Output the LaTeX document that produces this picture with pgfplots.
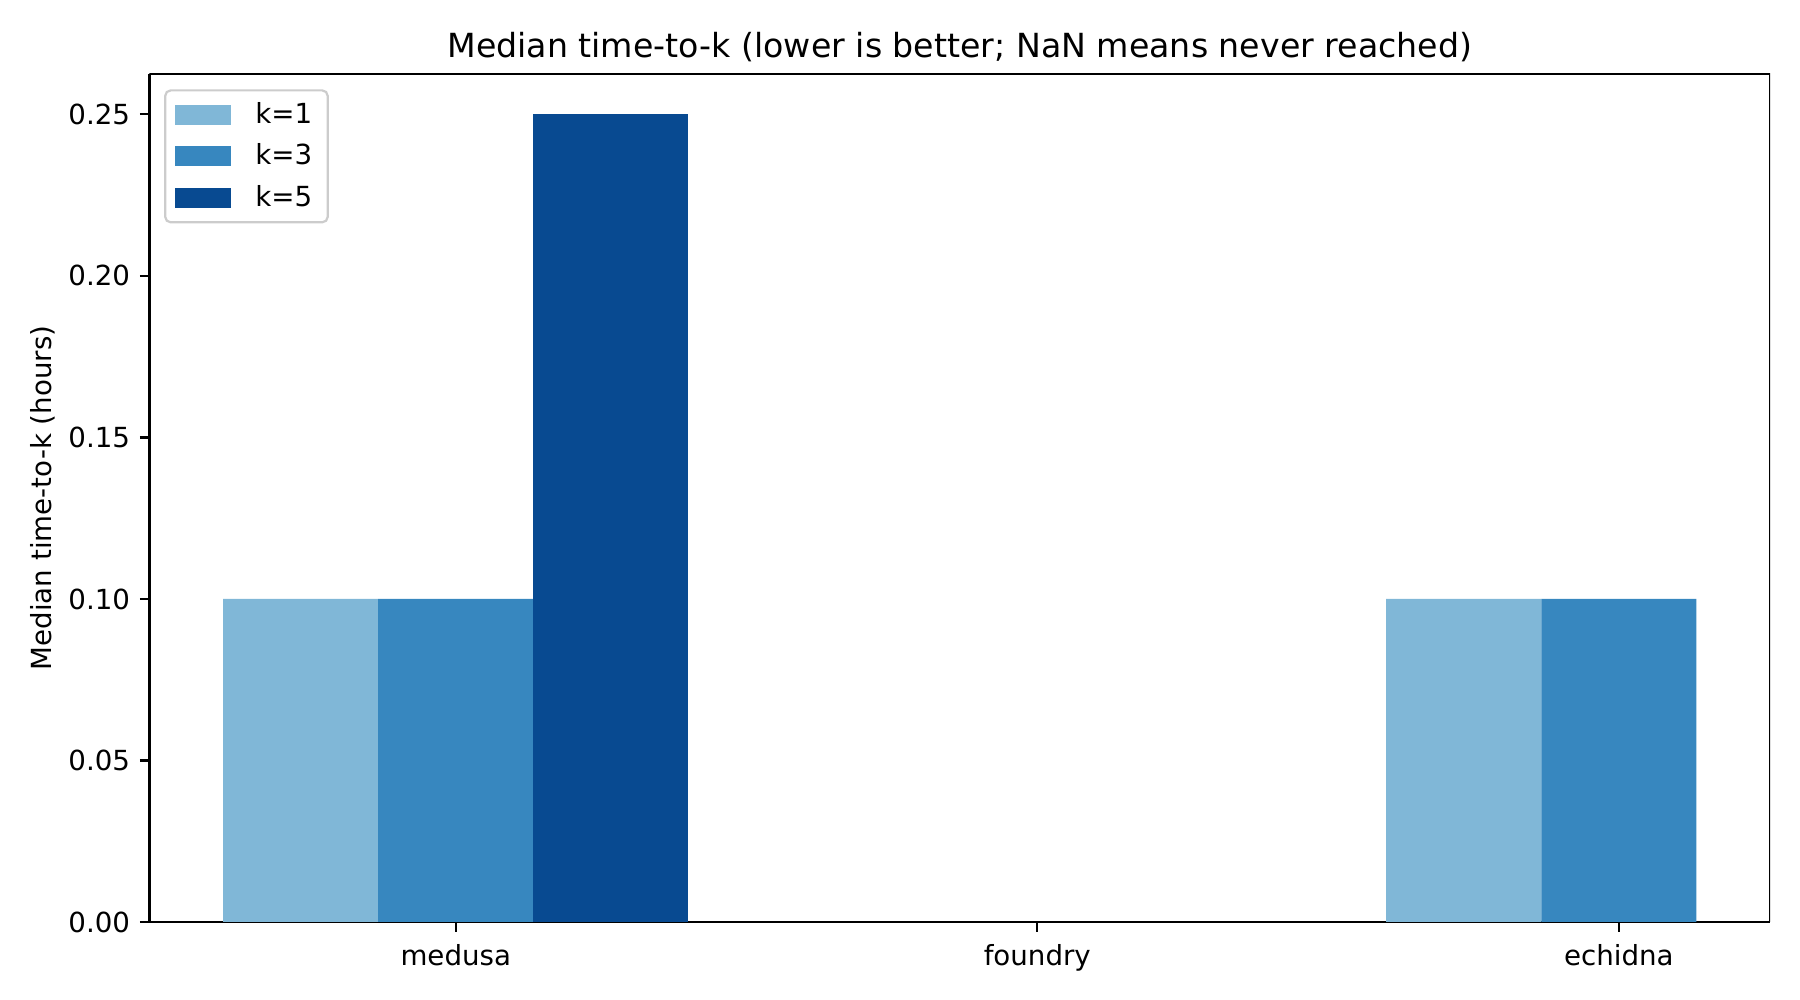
\documentclass[border=0pt]{standalone}
\usepackage{fontspec}
\setmainfont{DejaVu Sans}
\usepackage{pgfplots}
\pgfplotsset{compat=1.18}
\definecolor{kone}{RGB}{128,183,215}
\definecolor{kthree}{RGB}{55,135,191}
\definecolor{kfive}{RGB}{8,74,145}
\definecolor{legframe}{RGB}{204,204,204}

\begin{document}
\begin{tikzpicture}
    % page = 1800x1000 px at 200 dpi, axis box from (149.5,74) to (1770,922)
    \useasboundingbox (-0.7475in,-0.39in) rectangle (8.2525in,4.61in);
    \begin{axis}[
        at={(0,0)}, anchor=south west,
        scale only axis,
        width=8.1025in, height=4.24in,
        xmin=-0.52667, xmax=2.26,
        ymin=0, ymax=0.2625,
        xtick={0,1,2},
        xticklabels={medusa,foundry,echidna},
        ytick={0,0.05,0.10,0.15,0.20,0.25},
        yticklabel style={/pgf/number format/.cd,fixed,fixed zerofill,precision=2},
        /pgf/number format/assume math mode=true,
        tick align=outside,
        major tick length=3.5pt,
        tick style={line width=0.8pt, color=black},
        axis line style={line width=0.8pt},
        axis x line*=bottom, axis y line*=left,
        separate axis lines,
        x axis line style={-}, y axis line style={-},
        tick label style={font=\fontsize{10}{12}\selectfont},
        xticklabel style={yshift=-1pt},
        ylabel={Median time-to-k (hours)},
        ylabel style={font=\fontsize{10}{12}\selectfont, yshift=-2pt},
        title={Median time-to-k (lower is better; NaN means never reached)},
        title style={font=\fontsize{12}{14}\selectfont, yshift=-5pt},
        ybar, bar width=0.26667, bar shift=0pt,
        legend style={
            at={(0.009,0.982)}, anchor=north west,
            draw=legframe, line width=0.8pt, rounded corners=2pt,
            fill=white,
            font=\fontsize{10}{12}\selectfont,
            cells={anchor=west},
            row sep=2pt,
            inner xsep=3.6pt, inner ysep=2.2pt,
        },
        legend image code/.code={
            \fill[#1, sharp corners] (0pt,-3.6pt) rectangle (20pt,3.6pt);
            \path (27pt,0pt);
        },
    ]
    % closing the top and right sides of the frame
    \draw[line width=0.8pt] (rel axis cs:0,1) -- (rel axis cs:1,1) -- (rel axis cs:1,0);
    \addplot[fill=kone, draw=none] coordinates {(-0.26667,0.10) (1.73333,0.10)};
    \addplot[fill=kthree, draw=none] coordinates {(0,0.10) (2,0.10)};
    \addplot[fill=kfive, draw=none] coordinates {(0.26667,0.25)};
    \legend{k=1,k=3,k=5}
    \end{axis}
\end{tikzpicture}
\end{document}
